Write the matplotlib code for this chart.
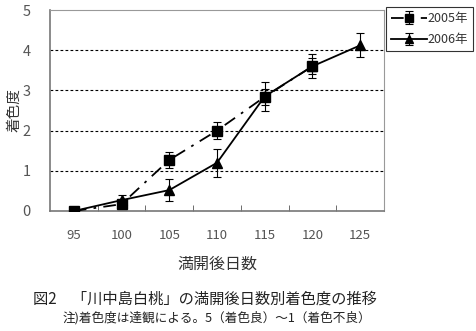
import matplotlib
matplotlib.use("Agg")
import matplotlib.pyplot as plt
import numpy as np

plt.rcParams['font.family'] = ['Noto Sans CJK JP', 'DejaVu Sans']

days = ["95", "100", "105", "110", "115", "120", "125"]
y2005 = [0.0, 0.17, 1.27, 2.0, 2.84, 3.6]
e2005 = [0.0, 0.05, 0.2, 0.22, 0.2, 0.2]
y2006 = [0.0, 0.27, 0.52, 1.2, 2.85, 3.6, 4.12]
e2006 = [0.0, 0.12, 0.27, 0.35, 0.37, 0.3, 0.3]
yticks = [0, 1, 2, 3, 4, 5]

fig = plt.figure(figsize=(4.77, 3.31), dpi=100)
ax = fig.add_axes([50/477, 1-211/331, 334/477, 201/331])

x05 = np.arange(len(y2005))
x06 = np.arange(len(y2006))

ax.errorbar(x05, y2005, yerr=e2005, color='black', lw=1.3,
            linestyle=(0, (7, 4, 1.5, 4)), marker='s', ms=6.5,
            elinewidth=0.8, capsize=3, capthick=0.8, label='2005年', zorder=3)
ax.errorbar(x06, y2006, yerr=e2006, color='black', lw=1.3,
            linestyle='-', marker='^', ms=7.5,
            elinewidth=0.8, capsize=3, capthick=0.8, label='2006年', zorder=3)

ax.set_xlim(-0.5, len(days) - 0.5)
ax.set_ylim(0, 5)
ax.set_yticks(yticks)
ax.set_yticklabels([str(v) for v in yticks], color='#555555', fontsize=10.5)
ax.set_xticks(np.arange(len(days)))
ax.set_xticklabels(days, color='#555555', fontsize=9.5)
ax.tick_params(axis='x', length=0, pad=13)
ax.set_xticks(np.arange(len(days) - 1) + 0.5, minor=True)
ax.tick_params(axis='x', which='minor', direction='in', length=4, color='#555555')
ax.tick_params(axis='y', length=0, pad=14)

for v in yticks[1:-1]:
    ax.axhline(v, color='black', lw=0.8, linestyle=(0, (2.5, 2)), zorder=1)

ax.spines['left'].set_color('#777777')
ax.spines['bottom'].set_color('#777777')
ax.spines['top'].set_color('#999999')
ax.spines['right'].set_color('#999999')
ax.spines['left'].set_linewidth(1.2)
ax.spines['bottom'].set_linewidth(1.2)

ax.set_ylabel('着色度', fontsize=10.5, color='#333333', labelpad=1)
ax.set_xlabel('満開後日数', fontsize=11.5, color='#333333', labelpad=10)

leg = fig.legend(loc='upper left', bbox_to_anchor=(386/477, 1-7/331),
                 frameon=True, fancybox=False, edgecolor='black',
                 fontsize=9, handlelength=2.9, handletextpad=0.05,
                 borderpad=0.4, labelspacing=0.65, borderaxespad=0,
                 markerscale=0.8)
leg.get_frame().set_linewidth(0.8)
for t in leg.get_texts():
    t.set_color('#333333')

fig.text(33/477, 1-299/331, '図2\u3000「川中島白桃」の満開後日数別着色度の推移',
         fontsize=11, color='#222222', va='center', ha='left')
fig.text(63/477, 1-318/331, '注)着色度は達観による。5（着色良）～1（着色不良）',
         fontsize=9.1, color='#222222', va='center', ha='left')

fig.savefig('out.png', dpi=100)
